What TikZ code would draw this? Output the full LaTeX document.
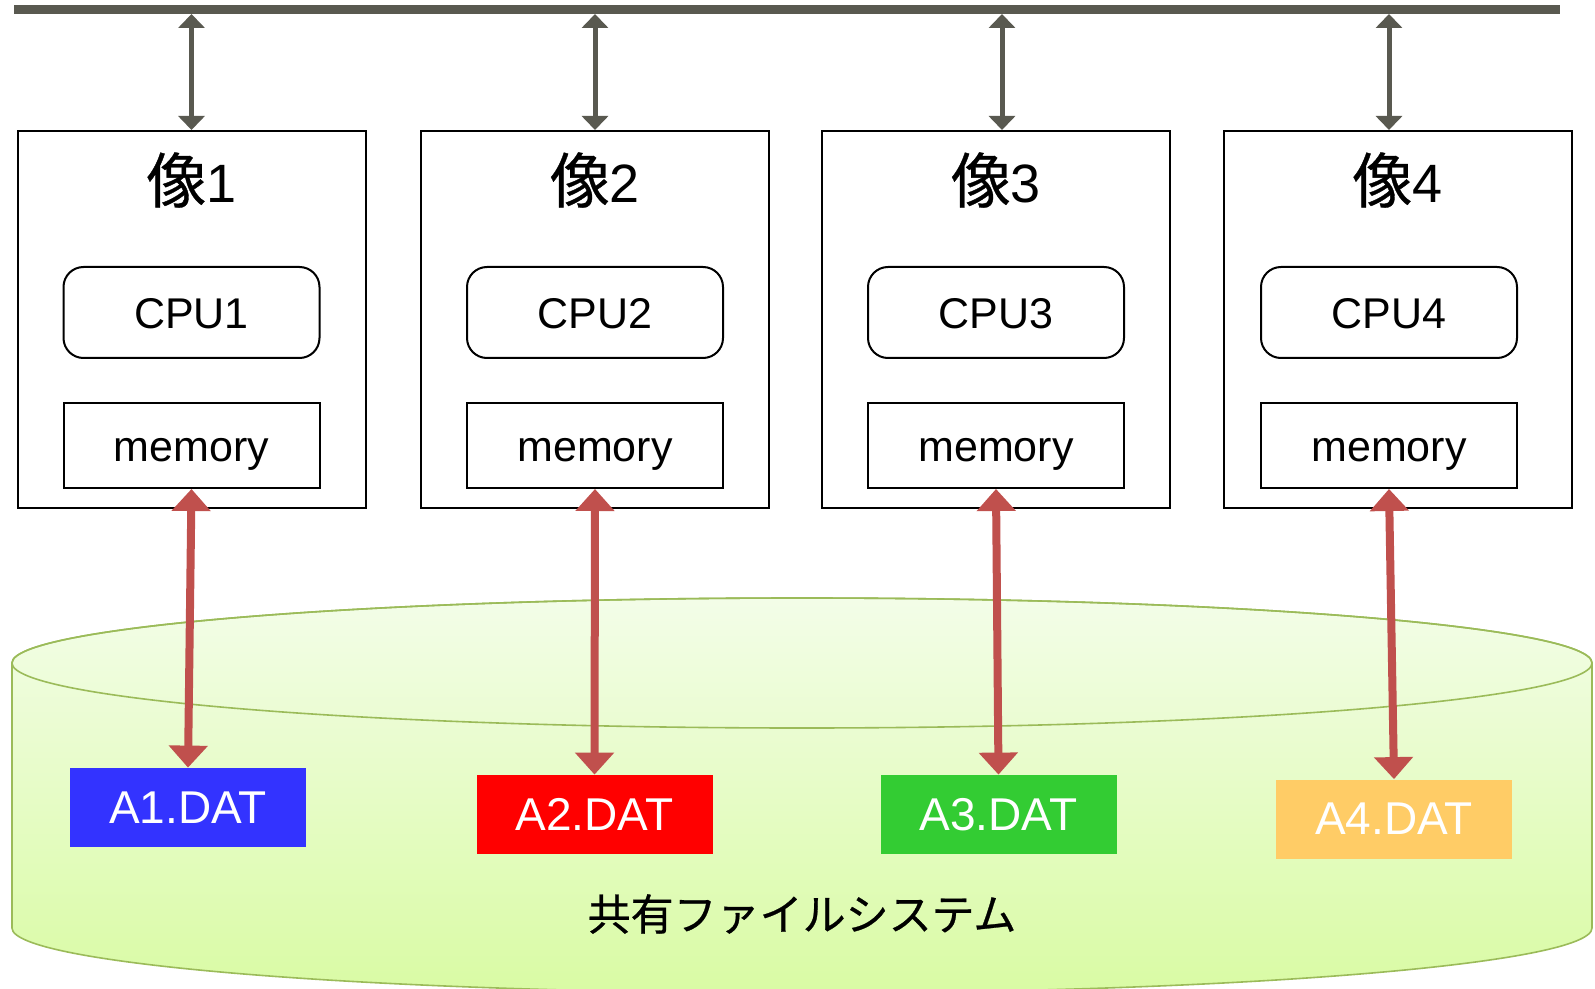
\documentclass[tikz,border=0pt]{standalone}
\usepackage{fontspec}
\setmainfont{Liberation Sans}
\newfontfamily\jpfont[FakeBold=0.6]{Noto Sans CJK JP}
\usepackage{tikz}
\usetikzlibrary{
    arrows.meta,
    calc,
    positioning
}
\definecolor{busgray}{RGB}{89,89,80}
\definecolor{iored}{RGB}{192,80,77}
\definecolor{diskline}{RGB}{155,187,89}
\definecolor{disktop}{RGB}{243,253,232}
\definecolor{diskbottom}{RGB}{217,251,164}
\definecolor{fileblue}{RGB}{51,51,255}
\definecolor{filered}{RGB}{255,0,0}
\definecolor{filegreen}{RGB}{51,204,51}
\definecolor{fileorange}{RGB}{255,204,102}
\tikzset
{
  imagebox/.style={draw=black,line width=1pt,minimum width=174pt,minimum height=188.5pt,inner sep=0pt},
  titletext/.style={inner sep=0pt,font=\fontsize{27}{30}\selectfont},
  cpubox/.style={draw=black,line width=1pt,rounded corners=10pt,minimum width=128pt,minimum height=45.5pt,inner sep=0pt,text depth=0pt,font=\fontsize{21.5}{24}\selectfont},
  membox/.style={draw=black,line width=1pt,minimum width=128pt,minimum height=42.5pt,inner sep=0pt,text depth=0pt,font=\fontsize{21.5}{24}\selectfont},
  datfile/.style={minimum width=118pt,minimum height=39.5pt,inner sep=0pt,text=white,font=\fontsize{23}{26}\selectfont},
  busarrow/.style={draw=busgray,line width=2.5pt,{Triangle[width=13pt,length=7pt]}-{Triangle[width=13pt,length=7pt]}},
  ioarrow/.style={draw=iored,line width=4pt,{Triangle[width=19pt,length=11pt]}-{Triangle[width=19pt,length=11pt]}}
}

\begin{document}
\begin{tikzpicture}[x=0.5pt,y=-0.5pt]
        \useasboundingbox (0,0) rectangle (1595,989);

        % Shared file system
        \shade[top color=disktop,bottom color=diskbottom,draw=diskline,line width=0.8pt]
            (12,663) -- (12,928) arc[start angle=180,end angle=0,x radius=790,y radius=65]
            -- (1592,663) arc[start angle=0,end angle=-180,x radius=790,y radius=65] -- cycle;
        \draw[diskline,line width=0.8pt] (802,663) ellipse[x radius=790,y radius=65];
        \node[inner sep=0pt,font=\fontsize{21.5}{24}\selectfont\jpfont] (fsname) at (802,914) {共有ファイルシステム};

        % Bus
        \coordinate (busL) at (14,9.5);
        \coordinate (busR) at (1560,9.5);
        \draw[busgray,line width=4.5pt] (busL) -- (busR);

        % Images, their CPUs, memories and files
        \foreach \i/\ox/\ix/\bx/\fx/\fy/\fc in {1/191.5/191.5/191.5/188/807.5/fileblue,
                                               2/595/595/595/594.5/814.5/filered,
                                               3/996/996/1002/998.5/814.5/filegreen,
                                               4/1397.5/1389/1389/1394/819/fileorange}
        {
            \node[imagebox] (img\i) at (\ox,319.5) {};
            \node[titletext] (title\i) at (\ox,180) {{\fontsize{30}{30}\selectfont\jpfont 像}\i};
            \node[cpubox] (cpu\i) at (\ix,312.5) {\raisebox{-1pt}{CPU\i}};
            \node[membox] (mem\i) at (\ix,445.5) {\raisebox{-4pt}{memory}};
            \node[datfile,fill=\fc] (file\i) at (\fx,\fy) {A\i.DAT};
            \coordinate (bus\i) at (\bx,14);
            \draw[busarrow] (bus\i) -- (bus\i |- img\i.north);
            \draw[ioarrow] (mem\i.south) -- (file\i.north);
        }
    \end{tikzpicture}
\end{document}
